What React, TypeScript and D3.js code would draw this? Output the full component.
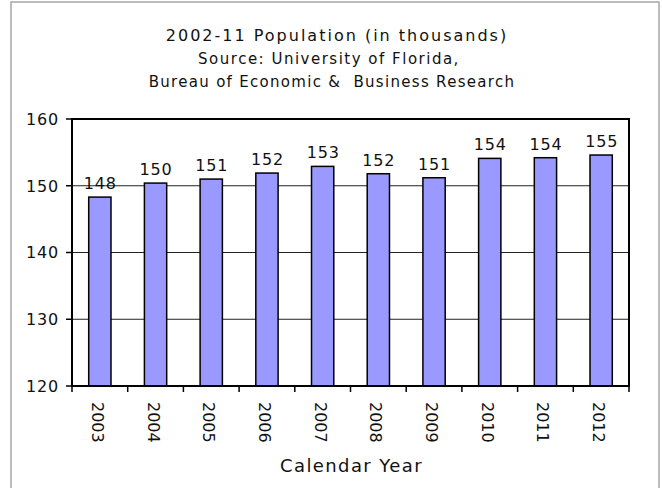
import * as React from "react";
import * as d3 from "d3";

const years = ["2003", "2004", "2005", "2006", "2007", "2008", "2009", "2010", "2011", "2012"];
const population = [148.3, 150.4, 151.0, 151.9, 152.9, 151.8, 151.2, 154.1, 154.2, 154.6];
const yTicks = [120, 130, 140, 150, 160];
const titleLines = [
  "2002-11 Population (in thousands)",
  "Source: University of Florida,",
  "Bureau of Economic &\u00a0 Business Research",
];
const xAxisTitle = "Calendar Year";

const W = 662;
const H = 488;
const MARGIN = { top: 119, right: 33, bottom: 102, left: 72 };
const FONT = "Verdana, 'DejaVu Sans', sans-serif";

export default function App() {
  const innerW = W - MARGIN.left - MARGIN.right;
  const innerH = H - MARGIN.top - MARGIN.bottom;

  const x = d3.scaleBand<string>().domain(years).range([0, innerW]).paddingInner(0.6).paddingOuter(0.3);
  const band = d3.scaleBand<string>().domain(years).range([0, innerW]);
  const y = d3.scaleLinear().domain([120, 160]).range([innerH, 0]);

  return (
    <svg
      width={W}
      height={H}
      style={{ position: "absolute", left: 0, top: 0, fontFamily: FONT }}
    >
      <rect width={W} height={H} fill="#fff" />
      {/* outer chart frame */}
      <rect x={11} y={2} width={648} height={H + 10} fill="none" stroke="#a6a6a6" strokeWidth={1.5} />

      {/* titles */}
      <text x={W / 2 + 6} y={41} textAnchor="middle" fontSize={16} letterSpacing={2} fill="#111">
        {titleLines[0]}
      </text>
      <text x={W / 2 - 2} y={64} textAnchor="middle" fontSize={15} letterSpacing={1.5} fill="#111">
        {titleLines[1]}
      </text>
      <text x={W / 2 + 1} y={87} textAnchor="middle" fontSize={15} letterSpacing={1.3} fill="#111">
        {titleLines[2]}
      </text>

      <g transform={`translate(${MARGIN.left},${MARGIN.top})`}>
        {/* gridlines */}
        {yTicks.slice(1, -1).map((t) => (
          <line key={`g-${t}`} x1={0} x2={innerW} y1={y(t)} y2={y(t)} stroke="#222" strokeWidth={1} />
        ))}

        {/* bars */}
        {years.map((yr, i) => (
          <rect
            key={yr}
            x={x(yr)}
            y={y(population[i])}
            width={x.bandwidth()}
            height={innerH - y(population[i])}
            fill="#9999FF"
            stroke="#000"
            strokeWidth={1.5}
          />
        ))}

        {/* value labels */}
        {years.map((yr, i) => (
          <text
            key={`v-${yr}`}
            x={(x(yr) ?? 0) + x.bandwidth() / 2 + 0.5}
            y={y(population[i]) - 8}
            textAnchor="middle"
            fontSize={16}
            letterSpacing={0.8}
            fill="#111"
          >
            {Math.round(population[i])}
          </text>
        ))}

        {/* plot border */}
        <rect x={0} y={0} width={innerW} height={innerH} fill="none" stroke="#000" strokeWidth={2} />

        {/* y axis ticks and labels */}
        {yTicks.map((t) => (
          <g key={`y-${t}`} transform={`translate(0,${y(t)})`}>
            <line x1={-6} x2={0} stroke="#000" strokeWidth={1.5} />
            <text x={-13} dy="0.36em" textAnchor="end" fontSize={16} letterSpacing={0.8} fill="#111">
              {t}
            </text>
          </g>
        ))}

        {/* x axis ticks at category boundaries */}
        {years.map((yr) => (
          <line
            key={`xt-${yr}`}
            x1={band(yr)}
            x2={band(yr)}
            y1={innerH}
            y2={innerH + 6}
            stroke="#000"
            strokeWidth={1.5}
          />
        ))}
        <line x1={innerW} x2={innerW} y1={innerH} y2={innerH + 6} stroke="#000" strokeWidth={1.5} />

        {/* x labels, rotated */}
        {years.map((yr) => (
          <text
            key={`xl-${yr}`}
            transform={`translate(${(band(yr) ?? 0) + band.bandwidth() / 2 - 8},${innerH + 16}) rotate(90)`}
            textAnchor="start"
            fontSize={16}
            fill="#111"
          >
            {yr}
          </text>
        ))}

        <text x={innerW / 2 + 1} y={innerH + 86} textAnchor="middle" fontSize={18} letterSpacing={1.4} fill="#111">
          {xAxisTitle}
        </text>
      </g>
    </svg>
  );
}
